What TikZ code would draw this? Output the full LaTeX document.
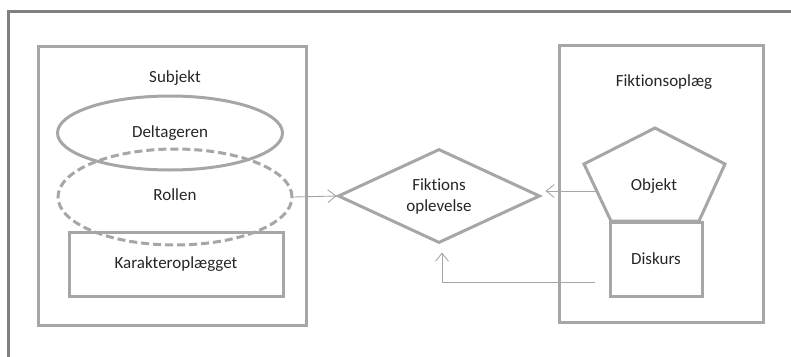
\documentclass[tikz,border=0pt]{standalone}
\usepackage{fontspec}
\setmainfont{Carlito}[Ligatures=NoCommon]
\usetikzlibrary{shapes.geometric,arrows.meta}

\definecolor{linegray}{HTML}{A6A6A6}
\definecolor{framegray}{HTML}{808080}

\tikzset{
  panel/.style={draw=linegray, line width=3pt, inner sep=0pt},
  blob/.style={ellipse, draw=linegray, line width=3pt, inner sep=0pt},
  link/.style={draw=linegray, line width=0.9pt,
    -{Straight Barb[length=8pt,width=13pt,line width=0.9pt]}},
  every node/.style={font=\fontsize{17}{20}\selectfont, text=black!85}
}

\begin{document}
\begin{tikzpicture}[x=1pt,y=-1pt]

        \useasboundingbox (0,0) rectangle (791,356);
        \clip (0,0) rectangle (791,356);

        % outer frame, runs off the page at right and bottom
        \draw[framegray, line width=3pt] (8,370) -- (8,11) -- (800,11);

        % subject side
        \node[panel, minimum width=268pt, minimum height=279pt] (subj) at (172,185.5) {};
        \node (subjlbl) at (175,78) {Subjekt};
        \node[blob, minimum width=225pt, minimum height=74pt] (delt) at (170,133) {Deltageren};
        \node[blob, dashed, dash pattern=on 8pt off 4pt,
              minimum width=234pt, minimum height=96pt] (rolle) at (175,197) {};
        \node (rollelbl) at (175,195) {Rollen};
        \node[panel, minimum width=214pt, minimum height=64pt] (karakt) at (176,264) {Karakteroplægget};

        % the experience in the middle
        \node[diamond, panel, aspect=2.15, minimum width=202pt, minimum height=94pt,
              align=center, font=\fontsize{17}{21}\selectfont] (opl) at (439,196) {Fiktions\\oplevelse};

        % fiction side
        \node[panel, minimum width=204pt, minimum height=277pt] (fikt) at (661,183.5) {};
        \node (fiktlbl) at (664,82) {Fiktionsoplæg};
        \draw[linegray, line width=3pt, line join=miter]
          (655,128) -- (725,164) -- (699,221) -- (611,221) -- (584,164) -- cycle;
        \node (obj) at (654,186) {Objekt};
        \node[panel, minimum width=92pt, minimum height=74pt] (disk) at (656,259) {Diskurs};

        \coordinate (objin) at (597,191);
        \coordinate (diskin) at (595,282);

        % connectors
        \draw[link] (rolle.east) -- (opl.west);
        \draw[link] (objin) -- ([xshift=4pt]opl.east |- objin);
        \draw[link] (diskin) -| ([xshift=3pt,yshift=-8pt]opl.south);

      \end{tikzpicture}
\end{document}
